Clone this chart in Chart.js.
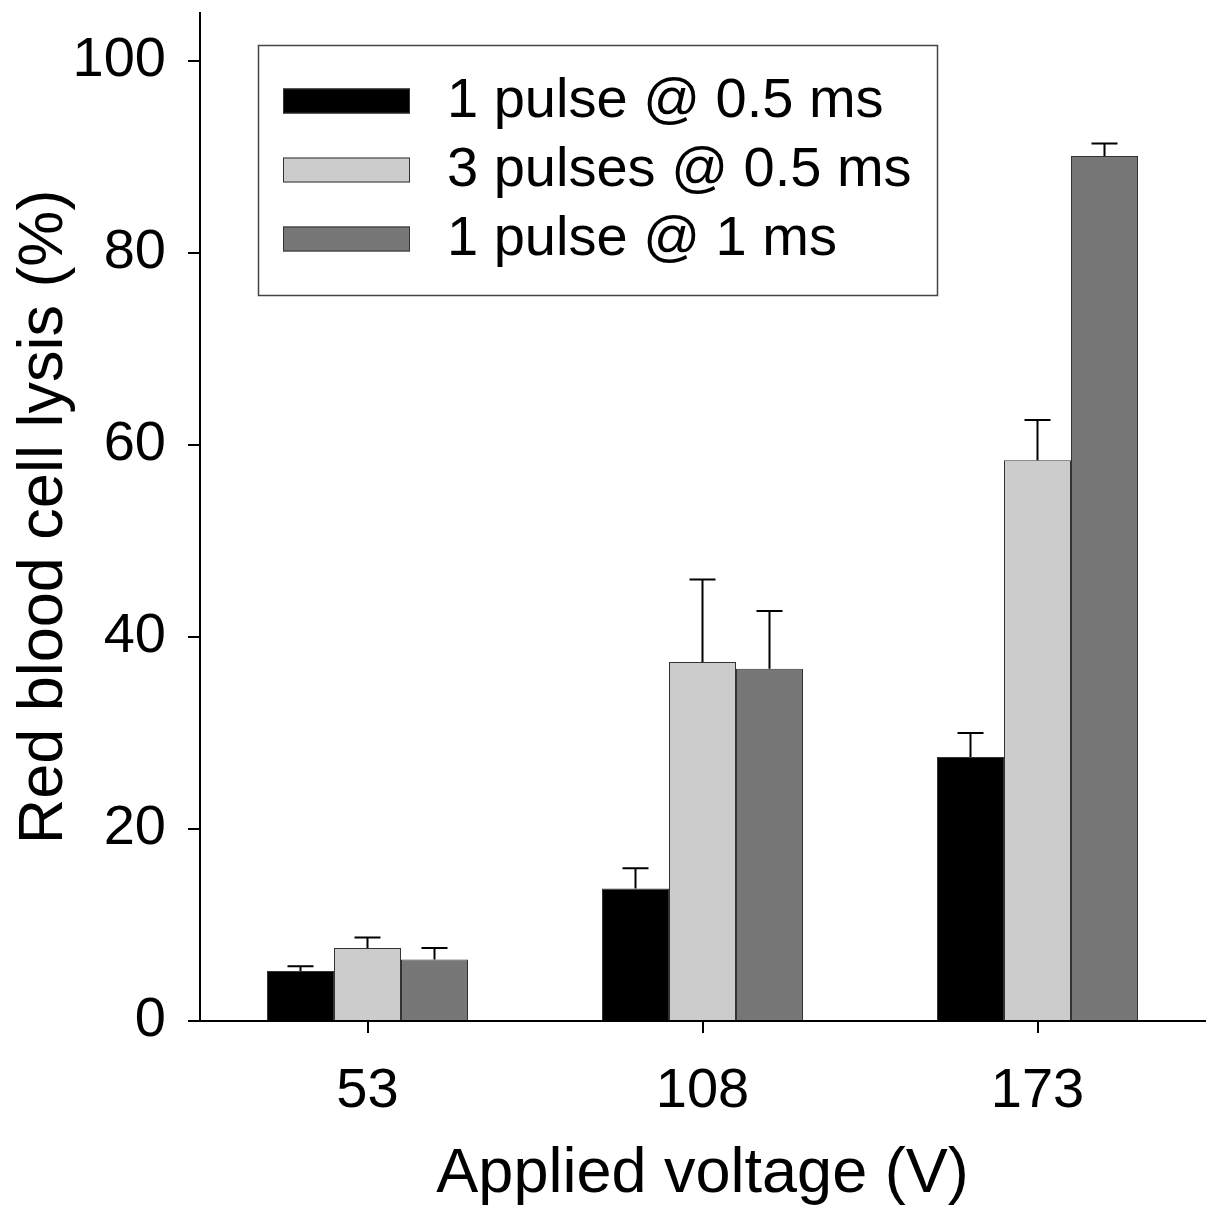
<!DOCTYPE html>
<html><head><meta charset="utf-8">
<script src="https://cdn.jsdelivr.net/npm/chart.js@4/dist/chart.umd.min.js"></script>
<style>html,body{margin:0;padding:0;background:#fff}#wrap{width:1207px;height:1212px}</style>
</head><body><div id="wrap"><canvas id="c" width="1207" height="1212"></canvas></div>
<script>
const categories = ['53', '108', '173'];
const seriesLabels = ['1 pulse @ 0.5 ms', '3 pulses @ 0.5 ms', '1 pulse @ 1 ms'];
const onePulse05 = [5.2, 13.8, 27.5];
const threePulses05 = [7.6, 37.4, 58.4];
const onePulse1 = [6.4, 36.7, 90.1];
const onePulse05Err = [0.5, 2.1, 2.5];
const threePulses05Err = [1.1, 8.6, 4.2];
const onePulse1Err = [1.2, 6.0, 1.3];
const yTicks = [0, 20, 40, 60, 80, 100];
const xTitle = 'Applied voltage (V)';
const yTitle = 'Red blood cell lysis (%)';

const FONT = "'Liberation Sans', Arial, sans-serif";
Chart.defaults.font.family = FONT;
Chart.defaults.color = '#000';

const errorBarPlugin = {
  id: 'errorBars',
  afterDatasetsDraw(chart) {
    const ctx = chart.ctx;
    const y = chart.scales.y;
    ctx.save();
    ctx.strokeStyle = '#000';
    ctx.lineWidth = 2;
    chart.data.datasets.forEach((ds, i) => {
      const meta = chart.getDatasetMeta(i);
      meta.data.forEach((bar, j) => {
        const top = y.getPixelForValue(ds.data[j] + ds.errorBars[j]);
        ctx.beginPath();
        ctx.moveTo(bar.x, bar.y);
        ctx.lineTo(bar.x, top);
        ctx.moveTo(bar.x - 13, top);
        ctx.lineTo(bar.x + 13, top);
        ctx.stroke();
      });
    });
    ctx.restore();
  }
};

const boxLegendPlugin = {
  id: 'boxLegend',
  afterDraw(chart) {
    const ctx = chart.ctx;
    ctx.save();
    ctx.fillStyle = '#fff';
    ctx.fillRect(258, 45, 680, 251);
    ctx.strokeStyle = '#444';
    ctx.lineWidth = 1.5;
    ctx.strokeRect(258.5, 45.5, 679, 250);
    const rows = [101, 170, 239];
    chart.data.datasets.forEach((ds, i) => {
      const r = rows[i];
      ctx.fillStyle = ds.backgroundColor;
      ctx.fillRect(283, r - 12.5, 127, 25);
      ctx.strokeStyle = '#333';
      ctx.lineWidth = 1;
      ctx.strokeRect(283.5, r - 12, 126, 24);
      ctx.fillStyle = '#000';
      ctx.font = '56px ' + FONT;
      ctx.textBaseline = 'middle';
      ctx.textAlign = 'left';
      ctx.fillText(ds.label, 447, r + 1);
    });
    ctx.restore();
  }
};

new Chart(document.getElementById('c'), {
  type: 'bar',
  data: {
    labels: categories,
    datasets: [
      { label: seriesLabels[0], data: onePulse05, errorBars: onePulse05Err, backgroundColor: '#000000', borderColor: '#333', borderWidth: 1 },
      { label: seriesLabels[1], data: threePulses05, errorBars: threePulses05Err, backgroundColor: '#cccccc', borderColor: '#333', borderWidth: 1 },
      { label: seriesLabels[2], data: onePulse1, errorBars: onePulse1Err, backgroundColor: '#777777', borderColor: '#333', borderWidth: 1 }
    ]
  },
  options: {
    responsive: false,
    animation: false,
    devicePixelRatio: 1,
    datasets: { bar: { barPercentage: 1.0, categoryPercentage: 0.6 } },
    layout: { padding: { top: 13, right: 2, left: 0, bottom: 0 } },
    plugins: { legend: { display: false }, tooltip: { enabled: false } },
    scales: {
      x: {
        grid: { offset: false, drawOnChartArea: false, drawTicks: true, tickLength: 12, color: '#000', lineWidth: 2 },
        border: { display: true, color: '#000', width: 2 },
        ticks: { font: { size: 56 }, color: '#000', padding: 25, maxRotation: 0 },
        title: { display: true, text: xTitle, font: { size: 63 }, color: '#000', padding: { top: 0, bottom: 0 } },
        afterFit(s) { s.height = 191; s.paddingLeft = 0; s.paddingRight = 0; }
      },
      y: {
        min: 0, max: 105,
        afterBuildTicks(s) { s.ticks = yTicks.map(v => ({ value: v })); },
        grid: { drawOnChartArea: false, drawTicks: true, tickLength: 12, color: '#000', lineWidth: 2 },
        border: { display: true, color: '#000', width: 2 },
        ticks: { font: { size: 56 }, color: '#000', padding: 22 },
        title: { display: true, text: yTitle, font: { size: 63 }, color: '#000', padding: { top: 7, bottom: 0 } },
        afterFit(s) { s.width = 200; s.paddingTop = 0; s.paddingBottom = 0; }
      }
    }
  },
  plugins: [errorBarPlugin, boxLegendPlugin]
});
</script></body></html>
